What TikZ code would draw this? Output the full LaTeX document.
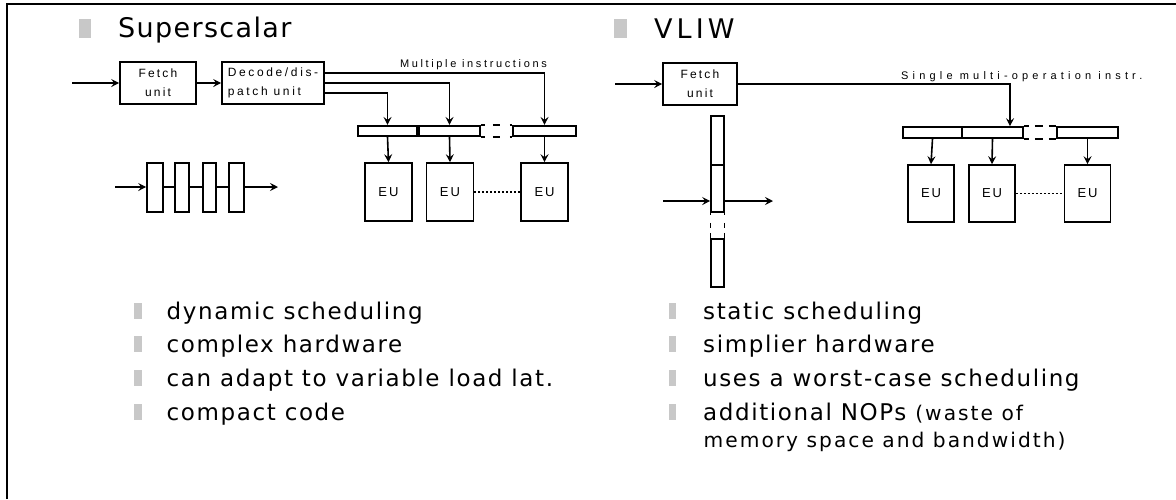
\documentclass[tikz,border=0pt]{standalone}
\usepackage{fontspec}
\setmainfont{DejaVu Sans}
\newfontfamily\lblfont{Liberation Sans}
\usetikzlibrary{arrows.meta}
\definecolor{bulgray}{RGB}{200,200,200}
\newcommand\asidefont{\addfontfeatures{LetterSpace=10}\fontsize{20.2}{24}\selectfont}

\tikzset{
  blk/.style={draw, line width=1.6pt, inner sep=0pt, font=\lblfont},
  wire/.style={line width=1.6pt},
  arr/.style={line width=1.6pt, -{Stealth[length=8pt,width=8pt,inset=3pt]}},
  bul/.style={fill=bulgray, draw=none, inner sep=0pt, anchor=south west},
  item/.style={anchor=base west, inner sep=0pt,
    font=\addfontfeatures{LetterSpace=7}\fontsize{23}{27}\selectfont},
  small/.style={font=\asidefont},
  head/.style={anchor=base west, inner sep=0pt},
  eu/.style={blk, minimum width=47pt, minimum height=58pt,
    font=\lblfont\addfontfeatures{LetterSpace=15}\fontsize{13}{15}\selectfont},
  reg/.style={draw, line width=1.6pt, inner sep=0pt, minimum height=10.5pt},
  gapline/.style={line width=1.6pt, dash pattern=on 4pt off 8pt on 7pt off 10pt on 4pt},
  unitlbl/.style={font=\lblfont\addfontfeatures{LetterSpace=18}\fontsize{12}{19}\selectfont},
}

\begin{document}
\begin{tikzpicture}[x=1pt,y=-1pt]
\useasboundingbox (0,0) rectangle (1176,499);
\fill[white] (0,0) rectangle (1176,499);
% frame edges
\draw[line width=2.5pt] (7,499) -- (7,4) -- (1176,4);

% ---------- headings ----------
\node[bul, minimum width=12pt, minimum height=19pt] (hb1) at (79,38) {};
\node[head, font=\addfontfeatures{LetterSpace=5}\fontsize{27}{30}\selectfont]
  (h1) at (118,37.5) {Superscalar};
\node[bul, minimum width=13pt, minimum height=19pt] (hb2) at (613.5,38) {};
\node[head, font=\addfontfeatures{LetterSpace=15}\fontsize{27}{30}\selectfont]
  (h2) at (654,38) {VLIW};

% ---------- superscalar datapath ----------
\coordinate (sin) at (72,83);
\node[blk, minimum width=76pt, minimum height=42pt, align=center, unitlbl]
      (sfetch) at (158,83) {Fetch\\unit};
\node[blk, minimum width=102pt, minimum height=42pt, align=left,
      font=\lblfont\addfontfeatures{LetterSpace=22}\fontsize{12}{19}\selectfont]
      (sdec) at (273,83) {Decode/dis-\\patch unit};
\draw[arr] (sin) -- (sfetch.west);
\draw[arr] (sfetch.east) -- (sdec.west);

\node[reg, minimum width=59pt] (sr1) at (387.5,131) {};
\node[reg, minimum width=61pt] (sr2) at (449.5,131) {};
\node[reg, minimum width=63pt] (sr3) at (544.5,131) {};
\draw[gapline] (sr2.north east) -- (sr3.north west);
\draw[gapline] (sr2.south east) -- (sr3.south west);

\draw[arr] ([yshift=10pt]sdec.east) -| (sr3.north);
\draw[arr] (sdec.east) -| (sr2.north);
\draw[arr] ([yshift=-10pt]sdec.east) -| (sr1.north);
\node[anchor=base east, inner sep=0pt,
      font=\lblfont\addfontfeatures{LetterSpace=24}\fontsize{11}{12}\selectfont]
      (smul) at (547,67) {Multiple instructions};

\node[eu] (seu1) at (388.5,192) {EU};
\node[eu] (seu2) at (450,192) {EU};
\node[eu] (seu3) at (544.5,192) {EU};
\draw[arr] (sr1.south) -- (seu1.north);
\draw[arr] (sr2.south) -- (seu2.north);
\draw[arr] (sr3.south) -- (seu3.north);
\draw[line width=1.6pt, dash pattern=on 2pt off 2pt] (seu2.east) -- (seu3.west);

% pipelined instruction stream
\node[reg, minimum width=16pt, minimum height=49pt] (ps1) at (155,187.5) {};
\node[reg, minimum width=14pt, minimum height=49pt] (ps2) at (182,187.5) {};
\node[reg, minimum width=13pt, minimum height=49pt] (ps3) at (209.5,187.5) {};
\node[reg, minimum width=15pt, minimum height=49pt] (ps4) at (236.5,187.5) {};
\coordinate (pin) at (115,187);
\coordinate (pout) at (278,187);
\draw[arr] (pin) -- (pin -| ps1.west);
\draw[wire] (pin -| ps1.east) -- (pin -| ps2.west);
\draw[wire] (pin -| ps2.east) -- (pin -| ps3.west);
\draw[wire] (pin -| ps3.east) -- (pin -| ps4.west);
\draw[arr] (pin -| ps4.east) -- (pout);

% ---------- VLIW datapath ----------
\coordinate (vin) at (615,84);
\node[blk, minimum width=74pt, minimum height=42pt, align=center, unitlbl]
      (vfetch) at (700,84) {Fetch\\unit};
\draw[arr] (vin) -- (vfetch.west);

\node[reg, minimum width=59pt, minimum height=11pt] (vr1) at (932.5,132.5) {};
\node[reg, minimum width=61pt, minimum height=11pt] (vr2) at (992.5,132.5) {};
\node[reg, minimum width=61pt, minimum height=11pt] (vr3) at (1087.5,132.5) {};
\draw[gapline, dash pattern=on 5pt off 6pt on 8pt off 6pt on 9pt] (vr2.north east) -- (vr3.north west);
\draw[gapline, dash pattern=on 5pt off 6pt on 8pt off 6pt on 9pt] (vr2.south east) -- (vr3.south west);
\draw[arr] (vfetch.east) -| ([xshift=17.5pt]vr2.north);
\node[anchor=base west, inner sep=0pt,
      font=\lblfont\addfontfeatures{LetterSpace=38}\fontsize{11}{12}\selectfont]
      (vsing) at (901,79) {Single multi-operation instr.};

\node[eu, minimum width=46pt, minimum height=57pt] (veu1) at (931,193.5) {EU};
\node[eu, minimum width=46pt, minimum height=57pt] (veu2) at (992,193.5) {EU};
\node[eu, minimum width=46pt, minimum height=57pt] (veu3) at (1087.5,193.5) {EU};
\draw[arr] (vr1.south) -- (veu1.north);
\draw[arr] (vr2.south) -- (veu2.north);
\draw[arr] (vr3.south) -- (veu3.north);
\draw[line width=1.6pt, dash pattern=on 2pt off 2pt] (veu2.east) -- (veu3.west);

% long instruction word, drawn vertically
\node[reg, minimum width=13pt, minimum height=49pt] (vw1) at (717.5,140.5) {};
\node[reg, minimum width=13pt, minimum height=47pt] (vw2) at (717.5,188.5) {};
\node[reg, minimum width=13pt, minimum height=48pt] (vw3) at (717.5,263) {};
\draw[line width=1.3pt, dash pattern=on 2pt off 8pt on 5pt off 5pt on 5pt off 2pt]
  (vw2.south west) -- (vw3.north west);
\draw[line width=1.3pt, dash pattern=on 2pt off 8pt on 5pt off 5pt on 5pt off 2pt]
  (vw2.south east) -- (vw3.north east);
\coordinate (wpin) at (663,201);
\coordinate (wpout) at (773,201);
\draw[arr] (wpin) -- (wpin -| vw2.west);
\draw[arr] (wpin -| vw2.east) -- (wpout);

% ---------- bullet lists ----------
\foreach \y/\t [count=\i] in {319/dynamic scheduling, 352/complex hardware,
    386/can adapt to variable load lat., 420/compact code} {
  \node[bul, minimum width=7.5pt, minimum height=16pt] (lb\i) at (134,\y) {};
  \node[item] (lt\i) at (166.5,\y) {\t};
}
\foreach \y/\t [count=\i] in {319/static scheduling, 352/simplier hardware,
    386/uses a worst-case scheduling} {
  \node[bul, minimum width=7.5pt, minimum height=16pt] (rb\i) at (668.5,\y) {};
  \node[item] (rt\i) at (703,\y) {\t};
}
\node[bul, minimum width=7.5pt, minimum height=16pt] (rb4) at (668.5,420) {};
\node[item] (rt4) at (703,420) {additional NOPs {\asidefont(waste of}};
\node[item, small] (rt5) at (703.5,447) {memory space and bandwidth)};
\end{tikzpicture}
\end{document}
